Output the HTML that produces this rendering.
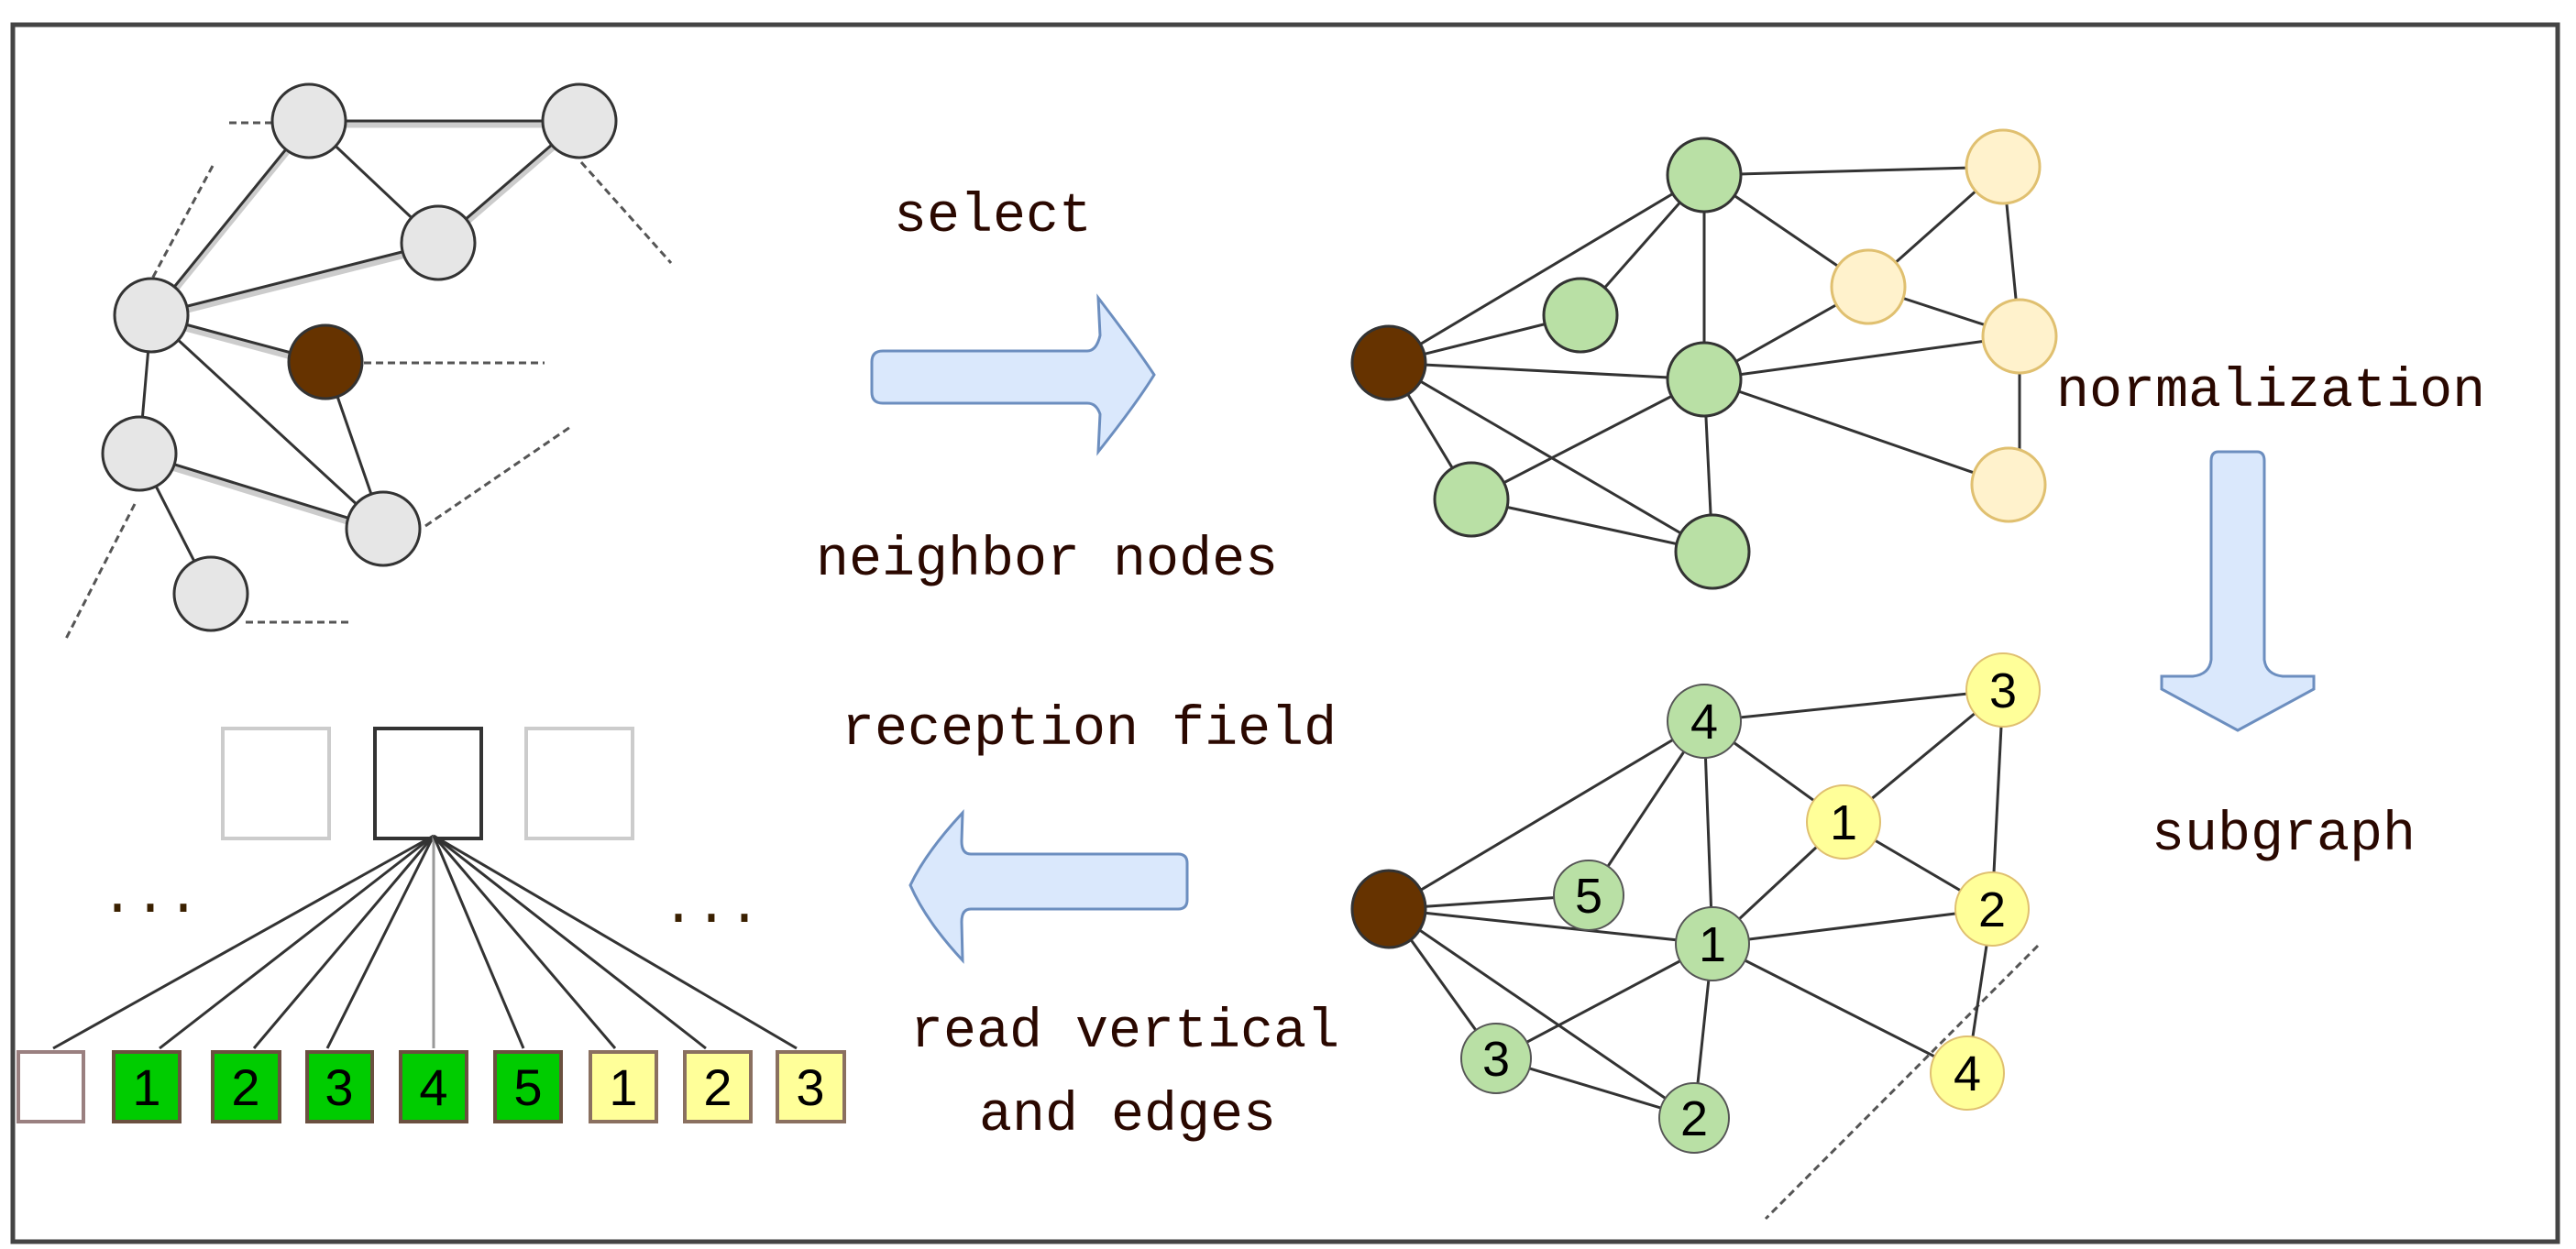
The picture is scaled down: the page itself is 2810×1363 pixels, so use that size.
<!DOCTYPE html>
<html><head><meta charset="utf-8"><style>
html,body{margin:0;padding:0;background:#fff;}
svg{display:block;}
.t{font-family:"Liberation Mono",monospace;font-size:60px;fill:#2a0800;}
.n{font-family:"Liberation Sans",sans-serif;font-size:54px;fill:#000;text-anchor:middle;}
</style></head><body>
<svg width="2810" height="1363" viewBox="0 0 2810 1363" xmlns="http://www.w3.org/2000/svg">
<rect x="14" y="27" width="2776" height="1328" fill="#fff" stroke="#444" stroke-width="5"/>
<g stroke="#ccc" stroke-width="7" fill="none">
<line x1="337" y1="136" x2="632" y2="136"/><line x1="337" y1="136" x2="165" y2="348"/><line x1="165" y1="348" x2="478" y2="269"/><line x1="632" y1="136" x2="478" y2="269"/><line x1="165" y1="348" x2="355" y2="399"/><line x1="152" y1="499" x2="418" y2="581"/>
</g>
<g stroke="#333" stroke-width="3" fill="none">
<line x1="337" y1="132" x2="632" y2="132"/><line x1="337" y1="132" x2="478" y2="265"/><line x1="337" y1="132" x2="165" y2="344"/><line x1="632" y1="132" x2="478" y2="265"/><line x1="478" y1="265" x2="165" y2="344"/><line x1="165" y1="344" x2="355" y2="395"/><line x1="165" y1="344" x2="152" y2="495"/><line x1="165" y1="344" x2="418" y2="577"/><line x1="355" y1="395" x2="418" y2="577"/><line x1="152" y1="495" x2="418" y2="577"/><line x1="152" y1="495" x2="230" y2="648"/>
</g>
<g stroke="#555" stroke-width="3" stroke-dasharray="8,5" fill="none">
<line x1="250" y1="134" x2="297" y2="134"/><line x1="634" y1="177" x2="732" y2="287"/><line x1="232" y1="181" x2="165" y2="306"/><line x1="397" y1="396" x2="594" y2="396"/><line x1="464" y1="574" x2="625" y2="464"/><line x1="147" y1="550" x2="71" y2="699"/><line x1="268" y1="679" x2="384" y2="679"/>
</g>
<g stroke="#333" stroke-width="3" fill="#e6e6e6">
<ellipse cx="337" cy="132" rx="40" ry="40"/><ellipse cx="632" cy="132" rx="40" ry="40"/><ellipse cx="478" cy="265" rx="40" ry="40"/><ellipse cx="165" cy="344" rx="40" ry="40"/><ellipse cx="152" cy="495" rx="40" ry="40"/><ellipse cx="418" cy="577" rx="40" ry="40"/><ellipse cx="230" cy="648" rx="40" ry="40"/>
</g>
<ellipse cx="355" cy="395" rx="40" ry="40" fill="#663300" stroke="#333" stroke-width="3"/>
<text class="t" x="975" y="252">select</text>
<text class="t" x="890" y="627">neighbor nodes</text>
<path d="M963,383 H1186 Q1196,383 1200,366 L1198,325 Q1240,380 1259,409 Q1240,440 1198,493 L1200,452 Q1196,440 1186,440 H963 Q951,440 951,428 V395 Q951,383 963,383 Z" fill="#dae8fc" stroke="#6c8ebf" stroke-width="3"/>
<g stroke="#333" stroke-width="3" fill="none">
<line x1="1515" y1="396" x2="1859" y2="191"/><line x1="1515" y1="396" x2="1724" y2="344"/><line x1="1515" y1="396" x2="1859" y2="414"/><line x1="1515" y1="396" x2="1605" y2="545"/><line x1="1515" y1="396" x2="1868" y2="602"/>
<line x1="1859" y1="191" x2="2185" y2="182"/><line x1="1859" y1="191" x2="1724" y2="344"/><line x1="1859" y1="191" x2="1859" y2="414"/><line x1="1859" y1="191" x2="2038" y2="313"/>
<line x1="2038" y1="313" x2="2185" y2="182"/><line x1="2038" y1="313" x2="1859" y2="414"/><line x1="2038" y1="313" x2="2203" y2="367"/><line x1="2185" y1="182" x2="2203" y2="367"/>
<line x1="1859" y1="414" x2="2203" y2="367"/><line x1="1859" y1="414" x2="2191" y2="529"/><line x1="1859" y1="414" x2="1605" y2="545"/><line x1="1859" y1="414" x2="1868" y2="602"/><line x1="1605" y1="545" x2="1868" y2="602"/><line x1="2203" y1="367" x2="2203" y2="529"/>
</g>
<g stroke="#333" stroke-width="3" fill="#b9e0a5">
<ellipse cx="1859" cy="191" rx="40" ry="40"/><ellipse cx="1724" cy="344" rx="40" ry="40"/><ellipse cx="1859" cy="414" rx="40" ry="40"/><ellipse cx="1605" cy="545" rx="40" ry="40"/><ellipse cx="1868" cy="602" rx="40" ry="40"/>
</g>
<g stroke="#e0c070" stroke-width="3" fill="#fff2cc">
<ellipse cx="2185" cy="182" rx="40" ry="40"/><ellipse cx="2038" cy="313" rx="40" ry="40"/><ellipse cx="2203" cy="367" rx="40" ry="40"/><ellipse cx="2191" cy="529" rx="40" ry="40"/>
</g>
<ellipse cx="1515" cy="396" rx="40" ry="40" fill="#663300" stroke="#333" stroke-width="3"/>
<text class="t" x="2243" y="443">normalization</text>
<path d="M2420,493 H2462 Q2470,493 2470,503 V720 Q2472,736 2490,738 H2524 V752 L2441,797 L2358,752 V738 H2392 Q2410,736 2412,720 V503 Q2412,493 2420,493 Z" fill="#dae8fc" stroke="#6c8ebf" stroke-width="3"/>
<text class="t" x="2347" y="927">subgraph</text>
<line x1="2223" y1="1032" x2="1926" y2="1330" stroke="#555" stroke-width="3" stroke-dasharray="8,5"/>
<g stroke="#333" stroke-width="3" fill="none">
<line x1="1515" y1="992" x2="1859" y2="787"/><line x1="1515" y1="992" x2="1733" y2="977"/><line x1="1515" y1="992" x2="1868" y2="1030"/><line x1="1515" y1="992" x2="1632" y2="1155"/><line x1="1515" y1="992" x2="1848" y2="1220"/>
<line x1="1859" y1="787" x2="2185" y2="753"/><line x1="1859" y1="787" x2="1733" y2="977"/><line x1="1859" y1="787" x2="1868" y2="1030"/><line x1="1859" y1="787" x2="2011" y2="897"/>
<line x1="2011" y1="897" x2="2185" y2="753"/><line x1="2011" y1="897" x2="2173" y2="992"/><line x1="2011" y1="897" x2="1868" y2="1030"/><line x1="2185" y1="753" x2="2173" y2="992"/>
<line x1="1868" y1="1030" x2="2173" y2="992"/><line x1="1868" y1="1030" x2="1632" y2="1155"/><line x1="1868" y1="1030" x2="1848" y2="1220"/><line x1="1868" y1="1030" x2="2146" y2="1171"/><line x1="1632" y1="1155" x2="1848" y2="1220"/><line x1="2173" y1="992" x2="2146" y2="1171"/>
</g>
<g stroke="#555" stroke-width="2" fill="#b9e0a5">
<ellipse cx="1859" cy="787" rx="40" ry="40"/><ellipse cx="1733" cy="977" rx="38" ry="38"/><ellipse cx="1868" cy="1030" rx="40" ry="40"/><ellipse cx="1632" cy="1155" rx="38" ry="38"/><ellipse cx="1848" cy="1220" rx="38" ry="38"/>
</g>
<g stroke="#e0c070" stroke-width="2" fill="#ffff99">
<ellipse cx="2185" cy="753" rx="40" ry="40"/><ellipse cx="2011" cy="897" rx="40" ry="40"/><ellipse cx="2173" cy="992" rx="40" ry="40"/><ellipse cx="2146" cy="1171" rx="40" ry="40"/>
</g>
<ellipse cx="1515" cy="992" rx="40" ry="42" fill="#663300" stroke="#333" stroke-width="3"/>
<g class="n">
<text x="1859" y="806">4</text><text x="1733" y="996">5</text><text x="1868" y="1049">1</text><text x="1632" y="1174">3</text><text x="1848" y="1239">2</text>
<text x="2185" y="772">3</text><text x="2011" y="916">1</text><text x="2173" y="1011">2</text><text x="2146" y="1190">4</text>
</g>
<text class="t" x="918" y="812">reception field</text>
<text class="t" x="993" y="1142">read vertical</text>
<text class="t" x="1068" y="1233">and edges</text>
<path d="M1285,932 H1059 Q1049,932 1049,918 L1050,887 Q1010,930 993,966 Q1010,1005 1050,1048 L1049,1006 Q1049,992 1059,992 H1285 Q1295,992 1295,982 V942 Q1295,932 1285,932 Z" fill="#dae8fc" stroke="#6c8ebf" stroke-width="3"/>
<rect x="243" y="795" width="116" height="120" fill="#fff" stroke="#ccc" stroke-width="4"/>
<rect x="409" y="795" width="116" height="120" fill="#fff" stroke="#333" stroke-width="4"/>
<rect x="574" y="795" width="116" height="120" fill="#fff" stroke="#ccc" stroke-width="4"/>
<g stroke="#333" stroke-width="3">
<line x1="473" y1="912" x2="58" y2="1144"/><line x1="473" y1="912" x2="174" y2="1144"/><line x1="473" y1="912" x2="277" y2="1144"/><line x1="473" y1="912" x2="357" y2="1144"/><line x1="473" y1="912" x2="473" y2="1144" stroke="#999"/><line x1="473" y1="912" x2="571" y2="1144"/><line x1="473" y1="912" x2="671" y2="1144"/><line x1="473" y1="912" x2="770" y2="1144"/><line x1="473" y1="912" x2="869" y2="1144"/>
</g>
<g class="t" style="font-size:60px;fill:#3a2000"><text x="110" y="995">...</text><text x="722" y="1006">...</text></g>
<rect x="20" y="1148" width="71" height="76" fill="#fff" stroke="#9a8080" stroke-width="4"/>
<g stroke="#6b5040" stroke-width="4" fill="#00cc00">
<rect x="124" y="1148" width="72" height="76"/><rect x="232" y="1148" width="73" height="76"/><rect x="335" y="1148" width="71" height="76"/><rect x="437" y="1148" width="72" height="76"/><rect x="540" y="1148" width="72" height="76"/>
</g>
<g stroke="#8a7060" stroke-width="4" fill="#ffff99">
<rect x="644" y="1148" width="72" height="76"/><rect x="747" y="1148" width="72" height="76"/><rect x="848" y="1148" width="73" height="76"/>
</g>
<g class="n" style="font-size:56px">
<text x="160" y="1206">1</text><text x="268" y="1206">2</text><text x="370" y="1206">3</text><text x="473" y="1206">4</text><text x="576" y="1206">5</text><text x="680" y="1206">1</text><text x="783" y="1206">2</text><text x="884" y="1206">3</text>
</g>
</svg>
</body></html>
